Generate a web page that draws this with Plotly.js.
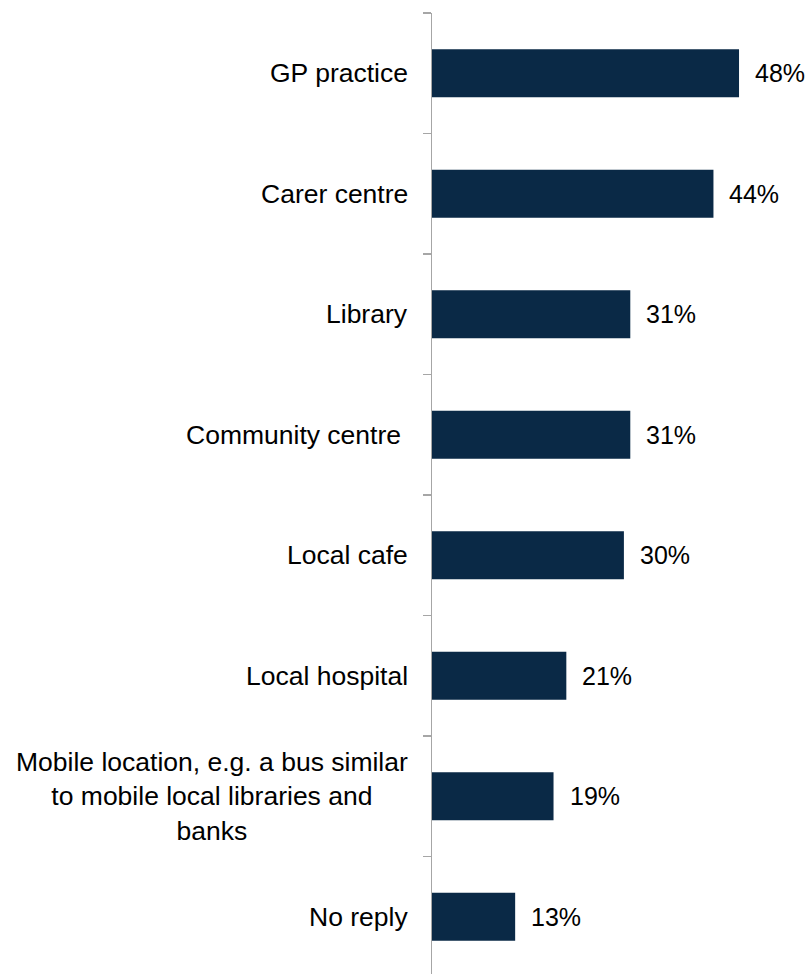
<!DOCTYPE html>
<html>
<head>
<meta charset="utf-8">
<script src="https://cdn.plot.ly/plotly-3.0.1.min.js"></script>
<style>html,body{margin:0;padding:0;background:#fff;}#chart{width:809px;height:974px;}</style>
</head>
<body>
<div id="chart"></div>
<script>
const categories = ["GP practice", "Carer centre", "Library", "Community centre ", "Local cafe", "Local hospital", "Mobile location, e.g. a bus similar<br>to mobile local libraries and<br>banks", "No reply"];
const values = [48, 44, 31, 31, 30, 21, 19, 13];
const valueLabels = ["48%", "44%", "31%", "31%", "30%", "21%", "19%", "13%"];

const font = "Liberation Sans, Arial, sans-serif";
const annotations = [];
categories.forEach((c, i) => {
  annotations.push({
    xref: "paper", yref: "y", x: 0, y: c, text: c,
    xanchor: "right", yanchor: "middle", align: "center", xshift: -22,
    showarrow: false, font: {family: font, size: 26.5, color: "#000"}
  });
  annotations.push({
    xref: "x", yref: "y", x: values[i], y: c, text: valueLabels[i],
    xanchor: "left", yanchor: "middle", xshift: 14,
    showarrow: false, font: {family: font, size: 25, color: "#000"}
  });
});

const trace = {
  type: "bar", orientation: "h",
  x: values, y: categories,
  width: 0.4,
  marker: {color: "#0a2946"},
  hoverinfo: "none"
};

const layout = {
  width: 809, height: 974,
  margin: {l: 432, r: 6, t: 13, b: 0, pad: 0},
  paper_bgcolor: "#fff", plot_bgcolor: "#fff",
  showlegend: false,
  xaxis: {range: [0, 58], visible: false, showgrid: false, zeroline: false},
  yaxis: {
    type: "category", categoryorder: "array", categoryarray: categories,
    range: [7.475, -0.5],
    showticklabels: false, showgrid: false, zeroline: false,
    showline: true, linecolor: "#a6a6a6", linewidth: 1.5,
    ticks: "outside", tickson: "boundaries", ticklen: 8,
    tickcolor: "#a6a6a6", tickwidth: 1.5
  },
  annotations: annotations,
  font: {family: font}
};

Plotly.newPlot("chart", [trace], layout, {displayModeBar: false, staticPlot: true});
</script>
</body>
</html>
